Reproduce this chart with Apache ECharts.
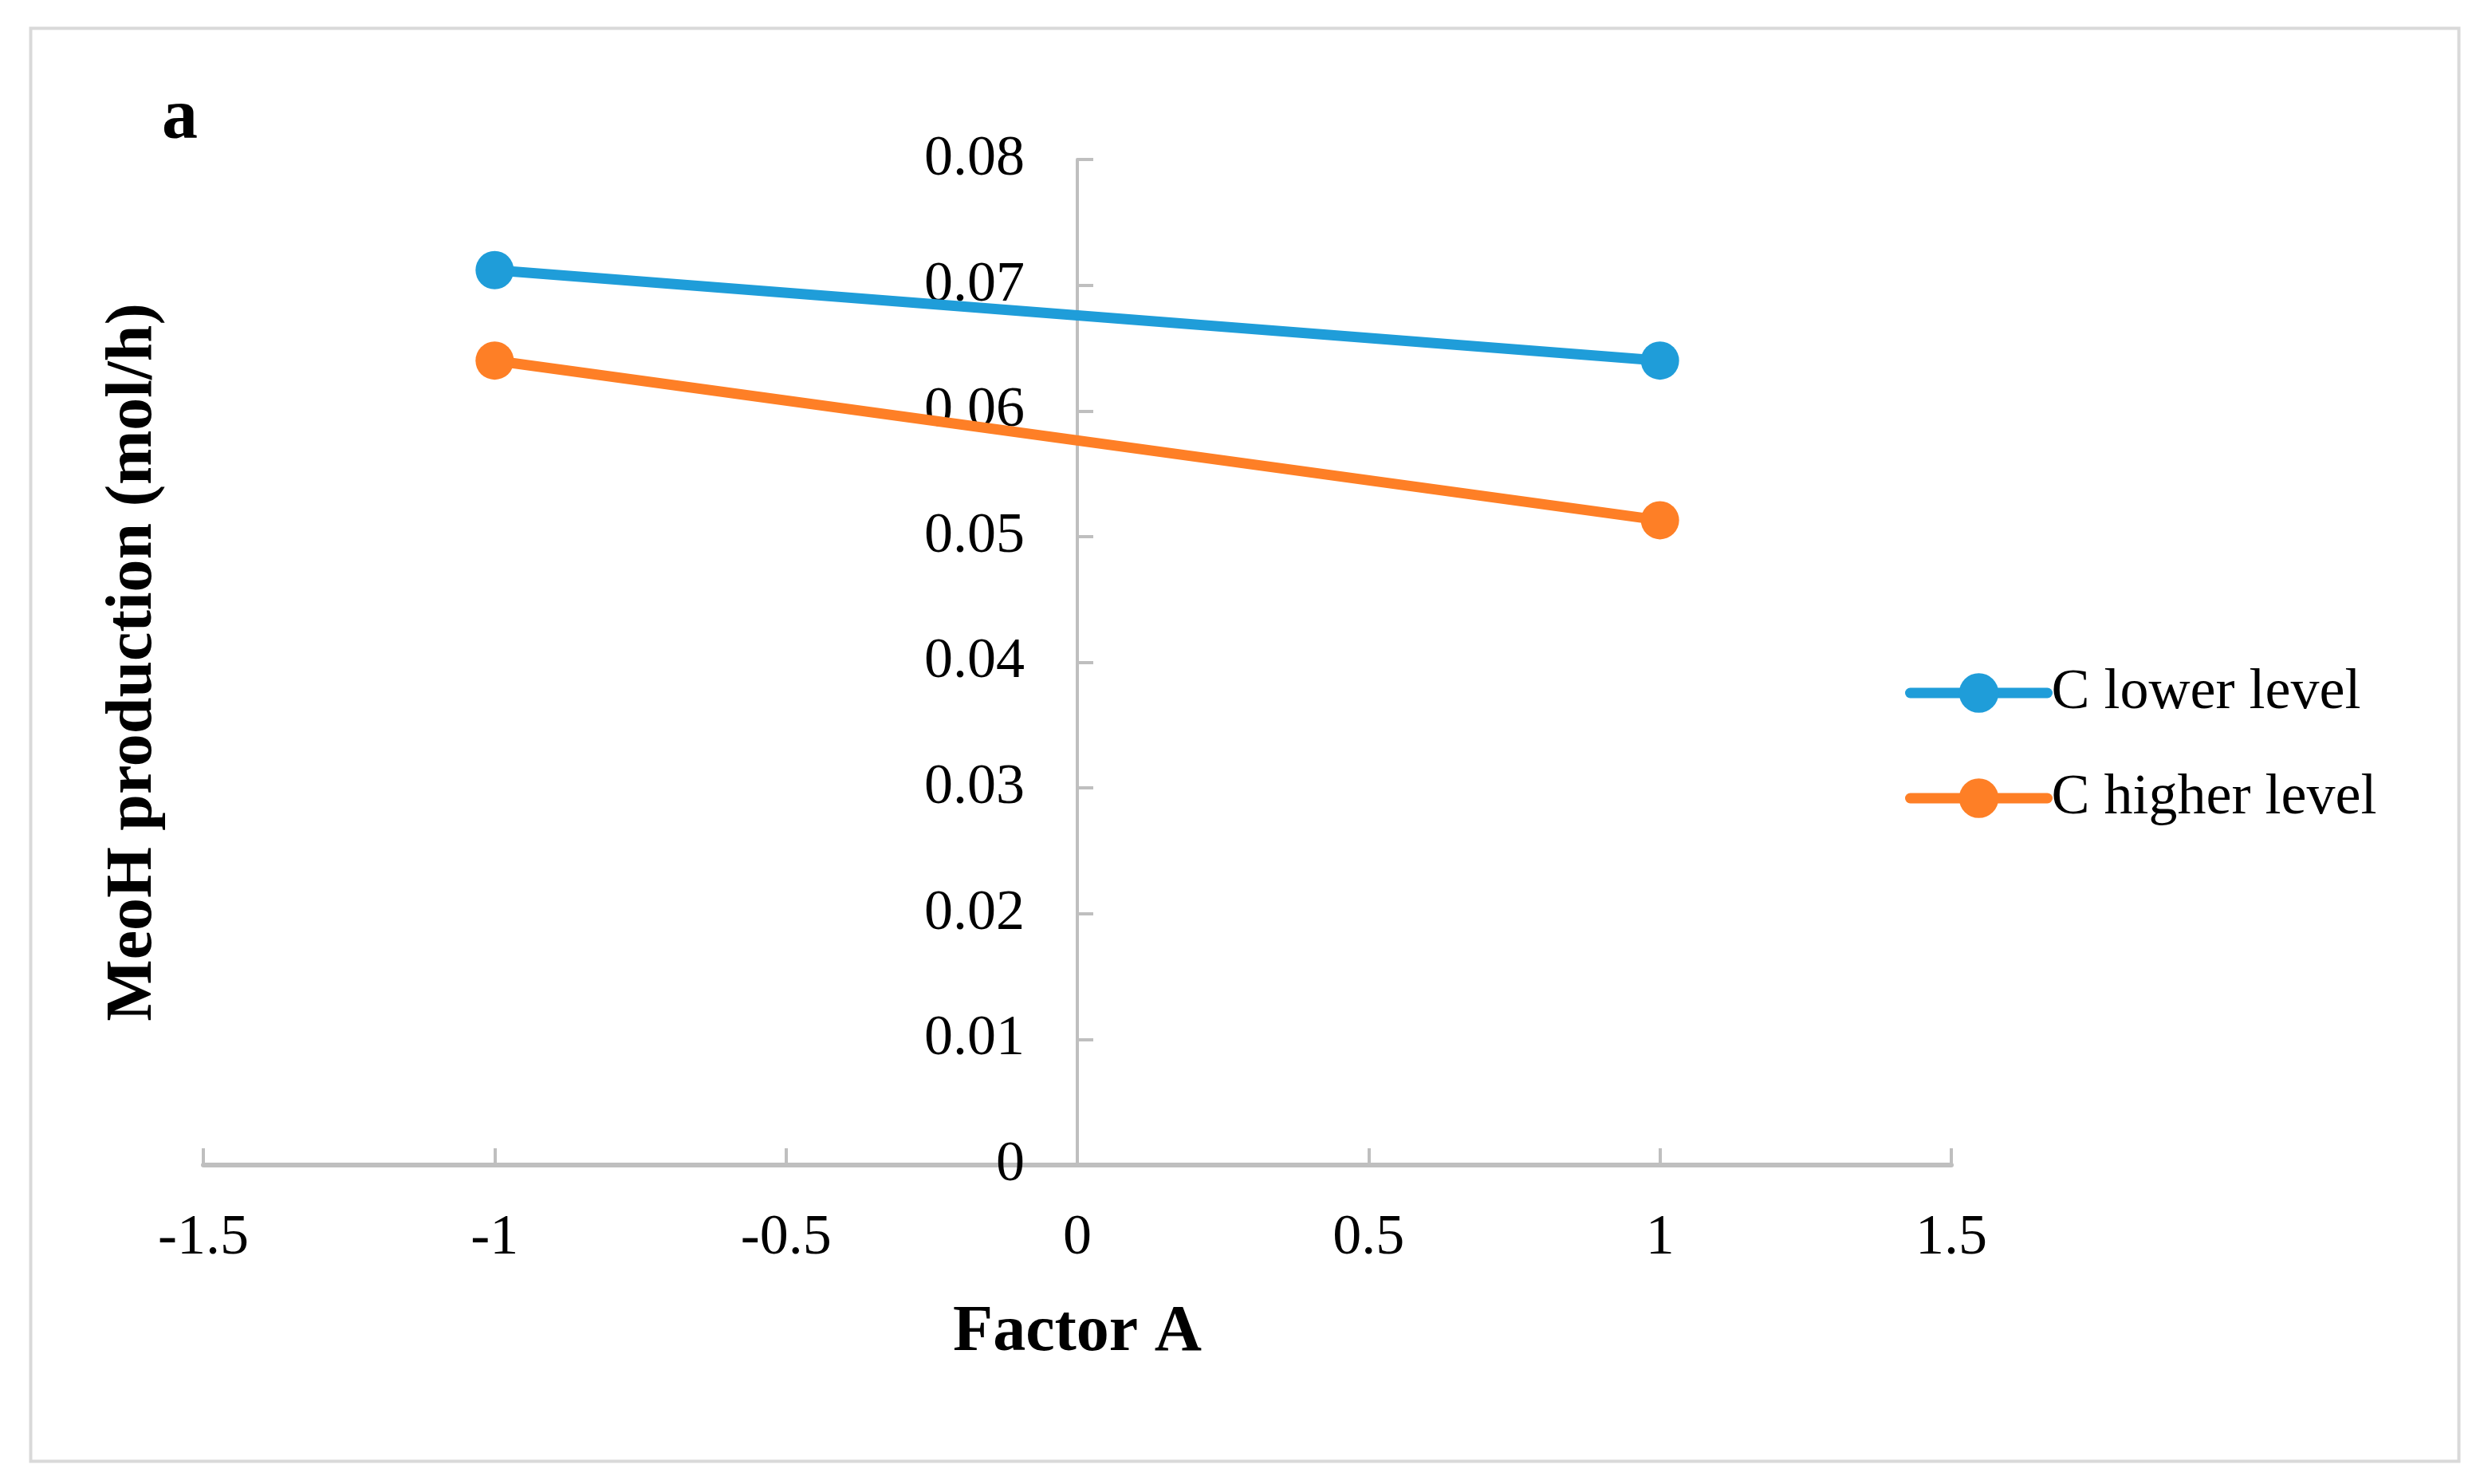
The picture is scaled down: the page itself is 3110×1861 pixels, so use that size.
<!DOCTYPE html>
<html>
<head>
<meta charset="utf-8">
<script src="https://cdn.jsdelivr.net/npm/echarts@6/dist/echarts.min.js"></script>
<style>
html,body{margin:0;padding:0;background:#fff;}
#main{width:3110px;height:1861px;}
</style>
</head>
<body>
<div id="main"></div>
<script>
var factorA = [-1, 1];
var cLower = [0.0712, 0.0640];
var cHigher = [0.0640, 0.0513];
var seriesNames = ['C lower level', 'C higher level'];
var panelLabel = 'a';
var xTitle = 'Factor A';
var yTitle = 'MeoH production (mol/h)';

var font = '"Liberation Serif", "Times New Roman", serif';
var chart = echarts.init(document.getElementById('main'), null, {renderer: 'canvas'});
function pairs(xs, ys){ return xs.map(function(x,i){ return [x, ys[i]]; }); }
var colors = ['#1f9dd9', '#fe7f26'];
var gridLeft = 255, gridRight = 663;
var option = {
  animation: false,
  backgroundColor: '#fff',
  title: {
    text: panelLabel, left: 198, top: 100,
    textStyle: {fontFamily: font, fontWeight: 'bold', fontSize: 90, color: '#000'}
  },
  graphic: [{
    type: 'rect', left: 36, top: 33,
    shape: {width: 3045, height: 1797},
    style: {fill: 'none', stroke: '#d9d9d9', lineWidth: 4}
  }],
  legend: {
    orient: 'vertical', left: 2384, top: 828,
    itemWidth: 172, itemHeight: 62, itemGap: 60,
    lineStyle: {width: 13, cap: 'round'},
    textStyle: {fontFamily: font, fontSize: 72, color: '#000', padding: [0,0,0,0]},
    data: seriesNames
  },
  grid: {left: gridLeft, right: gridRight, top: 200, bottom: 400, containLabel: false, outerBoundsMode: 'none'},
  xAxis: {
    type: 'value', min: -1.5, max: 1.5, interval: 0.5,
    name: xTitle, nameLocation: 'middle', nameGap: 170,
    nameTextStyle: {fontFamily: font, fontWeight: 'bold', fontSize: 82, color: '#000'},
    axisLine: {show: true, lineStyle: {color: '#bfbfbf', width: 6}},
    axisTick: {show: true, inside: true, length: 21, lineStyle: {color: '#bfbfbf', width: 4}},
    axisLabel: {fontFamily: font, fontSize: 72, color: '#000', margin: 56},
    splitLine: {show: false}
  },
  yAxis: {
    type: 'value', min: 0, max: 0.08, interval: 0.01,
    offset: -(3110 - gridLeft - gridRight) / 2,
    name: yTitle, nameLocation: 'middle', nameRotate: 90, nameGap: 1142,
    nameTextStyle: {fontFamily: font, fontWeight: 'bold', fontSize: 82, color: '#000'},
    axisLine: {show: true, onZero: false, lineStyle: {color: '#bfbfbf', width: 4}},
    axisTick: {show: true, inside: true, length: 20, lineStyle: {color: '#bfbfbf', width: 4}},
    axisLabel: {fontFamily: font, fontSize: 72, color: '#000', margin: 66},
    splitLine: {show: false}
  },
  series: [
    {name: seriesNames[0], type: 'line', data: pairs(factorA, cLower),
     symbol: 'circle', symbolSize: 48, color: colors[0],
     lineStyle: {width: 13, color: colors[0]}, itemStyle: {color: colors[0]}},
    {name: seriesNames[1], type: 'line', data: pairs(factorA, cHigher),
     symbol: 'circle', symbolSize: 48, color: colors[1],
     lineStyle: {width: 13, color: colors[1]}, itemStyle: {color: colors[1]}}
  ]
};
chart.setOption(option);
</script>
</body>
</html>
